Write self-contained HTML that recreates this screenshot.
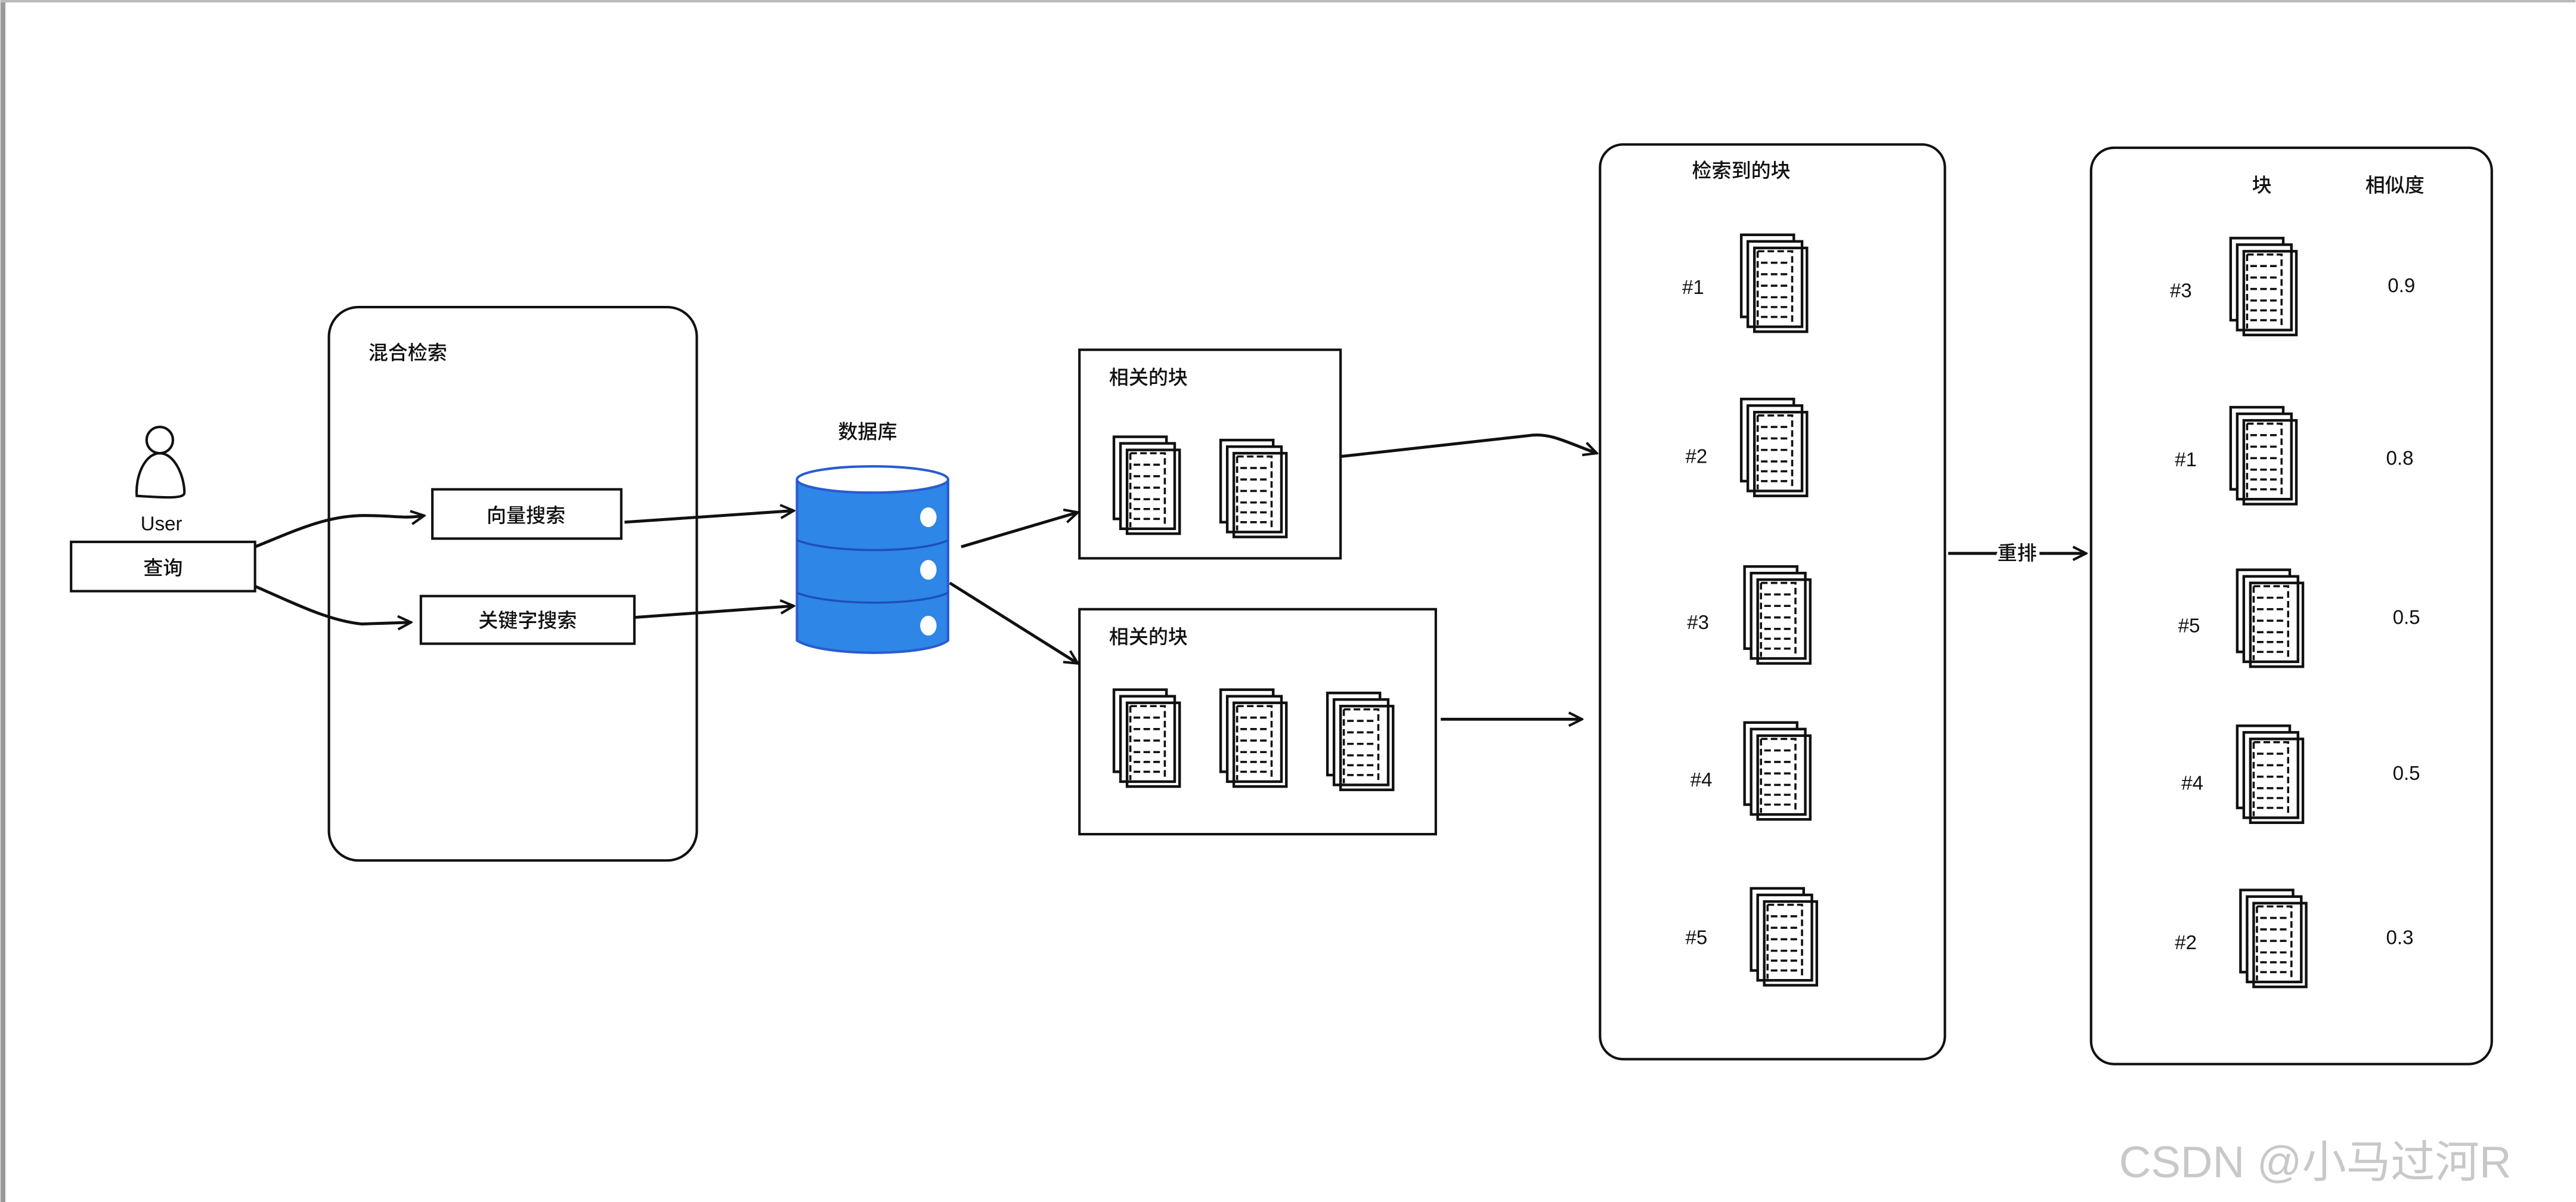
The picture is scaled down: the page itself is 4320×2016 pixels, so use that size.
<!DOCTYPE html>
<html><head><meta charset="utf-8"><style>
html,body{margin:0;padding:0;background:#fff;}
svg{display:block;}
text{font-family:"Liberation Sans","Noto Sans CJK SC",sans-serif;fill:#111;}
</style></head><body>
<svg width="4320" height="2016" viewBox="0 0 1568 732" xmlns="http://www.w3.org/2000/svg">
<defs>
<marker id="ah" markerWidth="10" markerHeight="10" refX="9" refY="5" orient="auto" markerUnits="userSpaceOnUse">
<path d="M1,1 L9,5 L1,9" fill="none" stroke="#111" stroke-width="1.5"/>
</marker>
<g id="doc">
<rect x="0" y="0" width="32" height="50" fill="#fff" stroke="#111" stroke-width="1.6"/>
<rect x="4" y="4" width="33" height="52" fill="#fff" stroke="#111" stroke-width="1.6"/>
<rect x="8" y="8" width="32" height="51" fill="none" stroke="#111" stroke-width="1.6"/>
<path d="M10,10 L31,10 L31,55 M10,10 L10,55" fill="none" stroke="#111" stroke-width="1.3" stroke-dasharray="4,2"/>
<path d="M12,17h16 M12,24h16 M12,31h16 M12,38h16 M12,44h16 M12,50h16" stroke="#111" stroke-width="1.3" stroke-dasharray="4,2"/>
</g>
</defs>
<rect x="0" y="0" width="1568" height="732" fill="#fff"/>
<rect x="0" y="0" width="3" height="732" fill="#999"/>
<rect x="0" y="0" width="1568" height="1.5" fill="#bbb"/>

<g font-weight="bold" style="font-weight:500">
<circle cx="97" cy="268" r="8" fill="#fff" stroke="#111" stroke-width="1.5"/>
<path d="M83,302 C82,290 88,276 97,276 C106,276 112,290 112,300 C112,304 100,303 83,302 Z" fill="#fff" stroke="#111" stroke-width="1.5"/>
<text x="98" y="323" font-size="12" text-anchor="middle">User</text>
<rect x="43" y="330" width="112" height="30" fill="#fff" stroke="#111" stroke-width="1.5"/>
<text x="99" y="350" font-size="12" text-anchor="middle">查询</text>

<rect x="200" y="187" width="224" height="337" rx="18" fill="none" stroke="#111" stroke-width="1.5"/>
<text x="224" y="219" font-size="12">混合检索</text>
<rect x="263" y="298" width="115" height="30" fill="#fff" stroke="#111" stroke-width="1.5"/>
<text x="320" y="318" font-size="12" text-anchor="middle">向量搜索</text>
<rect x="256" y="363" width="130" height="29" fill="#fff" stroke="#111" stroke-width="1.5"/>
<text x="321" y="382" font-size="12" text-anchor="middle">关键字搜索</text>

<g fill="none" stroke="#111" stroke-width="1.8" marker-end="url(#ah)">
<path d="M155,333 C180,323 200,313 225,314 C240,314 245,316 258,314"/>
<path d="M155,357 C180,368 200,378 220,380 L250,379"/>
<path d="M380,318 L483,311"/>
<path d="M386,376 L483,369"/>
<path d="M585,333 L656,312"/>
<path d="M578,355 L656,404"/>
<path d="M816,278 L933,265 C945,264 955,270 972,276"/>
<path d="M877,438 L963,438"/>
<path d="M1186,337 L1270,337"/>
</g>

<text x="528" y="267" font-size="12" text-anchor="middle">数据库</text>
<path d="M485,293 L485,390 C500,400 565,400 577,390 L577,293 Z" fill="#2e86e6" stroke="#2a5bd0" stroke-width="1.5"/>
<ellipse cx="531" cy="292" rx="46" ry="8" fill="#fff" stroke="#2a5bd0" stroke-width="1.5"/>
<path d="M485,329 C505,337 560,337 577,329 M485,361 C505,369 560,369 577,361" fill="none" stroke="#1f4fb8" stroke-width="1.3"/>
<ellipse cx="565" cy="315" rx="5" ry="6" fill="#fff"/>
<ellipse cx="565" cy="347" rx="5" ry="6" fill="#fff"/>
<ellipse cx="565" cy="381" rx="5" ry="6" fill="#fff"/>

<rect x="657" y="213" width="159" height="127" fill="none" stroke="#111" stroke-width="1.5"/>
<text x="675" y="234" font-size="12">相关的块</text>
<use href="#doc" x="678" y="266"/>
<use href="#doc" x="743" y="268"/>
<rect x="657" y="371" width="217" height="137" fill="none" stroke="#111" stroke-width="1.5"/>
<text x="675" y="392" font-size="12">相关的块</text>
<use href="#doc" x="678" y="420"/>
<use href="#doc" x="743" y="420"/>
<use href="#doc" x="808" y="422"/>

<rect x="974" y="88" width="210" height="557" rx="14" fill="none" stroke="#111" stroke-width="1.5"/>
<text x="1030" y="108" font-size="12">检索到的块</text>
<text x="1024" y="179" font-size="12">#1</text>
<use href="#doc" x="1060" y="143"/>
<text x="1026" y="282" font-size="12">#2</text>
<use href="#doc" x="1060" y="243"/>
<text x="1027" y="383" font-size="12">#3</text>
<use href="#doc" x="1062" y="345"/>
<text x="1029" y="479" font-size="12">#4</text>
<use href="#doc" x="1062" y="440"/>
<text x="1026" y="575" font-size="12">#5</text>
<use href="#doc" x="1066" y="541"/>

<text x="1228" y="341" font-size="12" text-anchor="middle" style="paint-order:stroke" stroke="#fff" stroke-width="4">重排</text>

<rect x="1273" y="90" width="244" height="558" rx="14" fill="none" stroke="#111" stroke-width="1.5"/>
<text x="1377" y="117" font-size="12" text-anchor="middle">块</text>
<text x="1458" y="117" font-size="12" text-anchor="middle">相似度</text>
<text x="1321" y="181" font-size="12">#3</text><use href="#doc" x="1358" y="145"/><text x="1462" y="178" font-size="12" text-anchor="middle">0.9</text>
<text x="1324" y="284" font-size="12">#1</text><use href="#doc" x="1358" y="248"/><text x="1461" y="283" font-size="12" text-anchor="middle">0.8</text>
<text x="1326" y="385" font-size="12">#5</text><use href="#doc" x="1362" y="347"/><text x="1465" y="380" font-size="12" text-anchor="middle">0.5</text>
<text x="1328" y="481" font-size="12">#4</text><use href="#doc" x="1362" y="442"/><text x="1465" y="475" font-size="12" text-anchor="middle">0.5</text>
<text x="1324" y="578" font-size="12">#2</text><use href="#doc" x="1364" y="542"/><text x="1461" y="575" font-size="12" text-anchor="middle">0.3</text>
</g>

<text x="1290" y="717" font-size="27" style="fill:#c8c8c8">CSDN @小马过河R</text>
</svg>
</body></html>
